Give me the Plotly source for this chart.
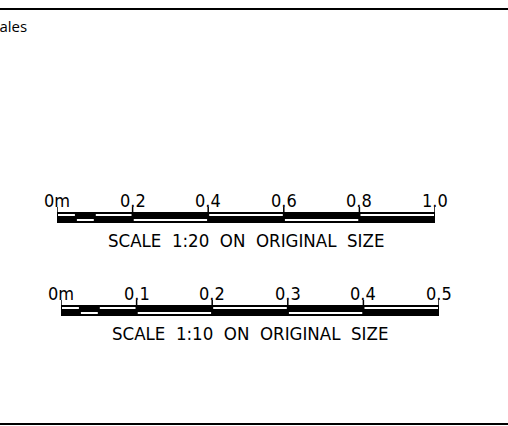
import plotly.graph_objects as go

# ---- data ----
title_text = "Scales"

s20_ticks = [0, 0.2, 0.4, 0.6, 0.8, 1.0]
s20_labels = ["0m", "0.2", "0.4", "0.6", "0.8", "1.0"]
s20_bounds = [0, 0.05, 0.1, 0.2, 0.4, 0.6, 0.8, 1.0]
s20_caption = "SCALE 1:20 ON ORIGINAL SIZE"

s10_ticks = [0, 0.1, 0.2, 0.3, 0.4, 0.5]
s10_labels = ["0m", "0.1", "0.2", "0.3", "0.4", "0.5"]
s10_bounds = [0, 0.025, 0.05, 0.1, 0.2, 0.3, 0.4, 0.5]
s10_caption = "SCALE 1:10 ON ORIGINAL SIZE"

# ---- layout constants ----
W, H = 508, 426
FONT = "DejaVu Sans Condensed, Liberation Sans Narrow, Roboto Condensed, DejaVu Sans"

fig = go.Figure()

shapes = []
annotations = []


def add_scale(xref, ticks, labels, bounds, caption, top):
    # top: pixel y of top of bar
    xmin, xmax = bounds[0], bounds[-1]
    bot = top + 11
    # black body
    shapes.append(dict(type="rect", xref=xref, yref="y", x0=xmin, x1=xmax, y0=top, y1=bot,
                       fillcolor="black", line=dict(width=0), layer="above"))
    # white stripes alternating upper/lower
    for i in range(len(bounds) - 1):
        if i % 2 == 0:
            y0, y1 = top + 2, top + 4
        else:
            y0, y1 = top + 7, top + 9
        shapes.append(dict(type="rect", xref=xref, yref="y", x0=bounds[i], x1=bounds[i + 1],
                           y0=y0, y1=y1, fillcolor="white", line=dict(width=0), layer="above"))
    # separators
    for b in bounds:
        shapes.append(dict(type="line", xref=xref, yref="y", x0=b, x1=b, y0=top, y1=bot,
                           line=dict(color="black", width=2), layer="above"))
    # major ticks
    for t in ticks:
        shapes.append(dict(type="line", xref=xref, yref="y", x0=t, x1=t, y0=top - 5, y1=bot,
                           line=dict(color="black", width=1.5), layer="above"))
    # labels
    for t, lab in zip(ticks, labels):
        annotations.append(dict(xref=xref, yref="y", x=t, y=top + 1, text=lab, showarrow=False,
                                xanchor="center", yanchor="bottom",
                                font=dict(family=FONT, size=18, color="black")))
    annotations.append(dict(xref=xref, yref="y", x=(xmin + xmax) / 2, y=top + 28,
                            text=caption.replace(" ", "\u00a0\u00a0"), showarrow=False,
                            xanchor="center", yanchor="middle",
                            font=dict(family=FONT, size=18.5, color="black")))
    fig.add_trace(go.Scatter(x=[xmin, xmax], y=[top, top], mode="markers",
                             marker=dict(opacity=0), hoverinfo="skip", showlegend=False,
                             xaxis=xref, yaxis="y"))


add_scale("x", s20_ticks, s20_labels, s20_bounds, s20_caption, 212)
add_scale("x2", s10_ticks, s10_labels, s10_bounds, s10_caption, 305)

# frame lines
shapes.append(dict(type="line", xref="paper", yref="y", x0=0, x1=1, y0=9, y1=9,
                   line=dict(color="black", width=2)))
shapes.append(dict(type="line", xref="paper", yref="y", x0=0, x1=1, y0=424, y1=424,
                   line=dict(color="black", width=2)))

# title (clipped at left edge, as in the reference)
annotations.append(dict(xref="paper", yref="y", x=-18 / W, y=26, text=title_text, showarrow=False,
                        xanchor="left", yanchor="middle",
                        font=dict(family="Open Sans", size=15, color="black")))

fig.update_layout(
    width=W, height=H,
    margin=dict(l=0, r=0, t=0, b=0),
    paper_bgcolor="white", plot_bgcolor="white",
    showlegend=False,
    xaxis=dict(domain=[57 / W, 435 / W], range=[s20_bounds[0], s20_bounds[-1]], visible=False, anchor="y"),
    xaxis2=dict(domain=[61 / W, 439 / W], range=[s10_bounds[0], s10_bounds[-1]], visible=False, anchor="y"),
    yaxis=dict(domain=[0, 1], range=[H, 0], visible=False),
    shapes=shapes,
    annotations=annotations,
)

fig.write_html("out.html", config={"displayModeBar": False},
               post_script="document.body.style.margin='0';")
